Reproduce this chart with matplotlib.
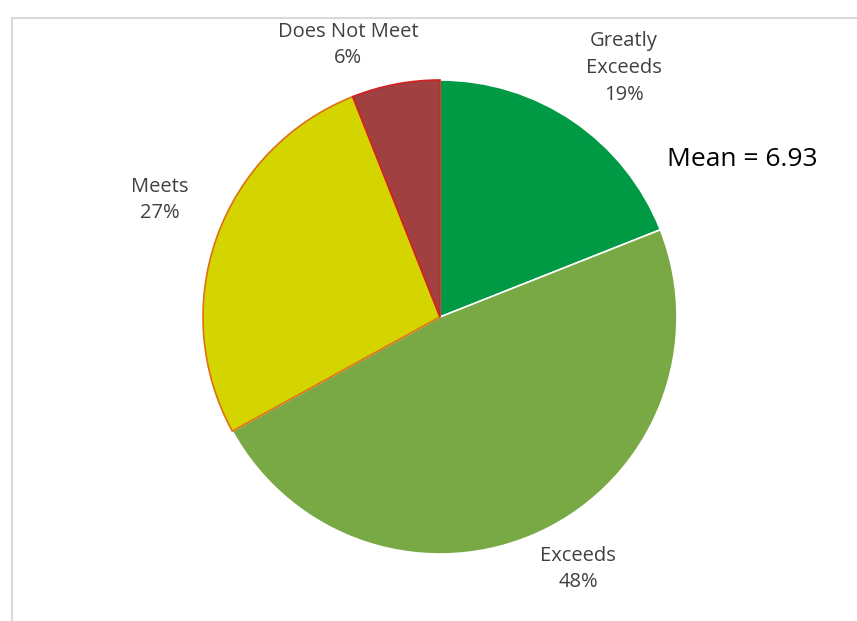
import matplotlib.pyplot as plt
from matplotlib.patches import Rectangle

# Rating distribution
categories = ['Greatly\nExceeds', 'Exceeds', 'Meets', 'Does Not Meet']
shares = [19, 48, 27, 6]
colors = ['#009944', '#79a944', '#d4d400', '#a04040']
edges = ['white', 'white', '#e07010', '#d42020']
mean_score = 6.93

plt.rcParams['font.family'] = ['Open Sans', 'DejaVu Sans']

fig = plt.figure(figsize=(8.57, 6.21), dpi=100)
ax = fig.add_axes([0, 0, 1, 1])

# light frame around the chart area
ax.add_patch(Rectangle((12, -10), 900, 613, fill=False, edgecolor='#d9d9d9', lw=1.5))

wedges, _ = ax.pie(shares, colors=colors, startangle=90, counterclock=False,
                   center=(440, 304), radius=237, frame=True,
                   wedgeprops=dict(linewidth=1.2))
for w, ec in zip(wedges, edges):
    w.set_edgecolor(ec)
ax.set_xlim(0, 857)
ax.set_ylim(0, 621)
ax.axis('off')

label_pos = [(624, 553), (578, 52), (160, 421), (348, 576)]
for (x, y), name, val in zip(label_pos, categories, shares):
    ax.text(x, y, f'{name}\n{val}%', ha='center', va='center', fontsize=14.5,
            color='#404040', linespacing=1.45)

ax.text(742, 461, f'Mean = {mean_score}', ha='center', va='center',
        fontsize=19, color='black')

fig.savefig('out.png', dpi=100)
